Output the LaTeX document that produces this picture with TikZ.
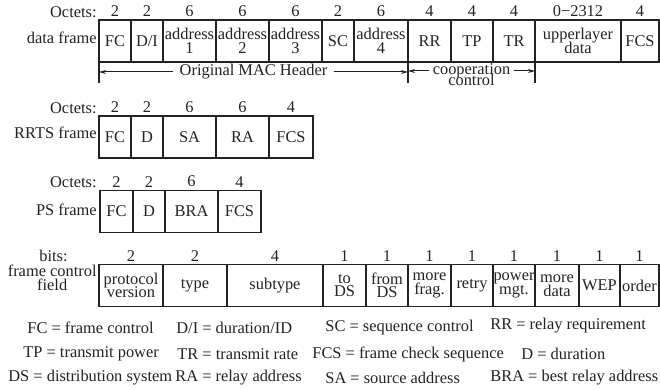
\documentclass[tikz,border=0pt]{standalone}
\usepackage{fontspec}
\setmainfont{Liberation Serif}
\usetikzlibrary{arrows.meta,positioning}
\definecolor{frameink}{HTML}{222222}
\lineskiplimit=-5pt

\begin{document}
\begin{tikzpicture}[
  x=0.5pt, y=-0.5pt,
  font=\fontsize{8.2}{6.8}\selectfont,
  cell/.style={draw=frameink, line width=0.7pt, minimum height=21pt, inner sep=0pt, outer sep=0pt, align=center, text=frameink},
  num/.style={inner sep=0pt, text=frameink},
  lbl/.style={anchor=east, inner sep=0pt, align=center, text=frameink},
  key/.style={anchor=west, inner sep=0pt, text=frameink},
  arr/.style={-{Stealth[length=3.5pt,width=2pt]}, frameink, line width=0.5pt},
  ext/.style={frameink, line width=0.7pt},
  every label/.style={num}, label distance=1.5pt
]
\useasboundingbox (0,0) rectangle (660,390);

% data frame
\node[lbl] (octa) at (97,12) {Octets:};
\node[lbl] (dfname) at (97,38) {data frame};
\node[cell, minimum width=16pt, label=above:2] (df1) at (115,41) {FC};
\node[cell, minimum width=16pt, label=above:2, right=0pt of df1] (df2) {D/I};
\node[cell, minimum width=26.5pt, label=above:6, right=0pt of df2] (df3) {address\\1};
\node[cell, minimum width=26.5pt, label=above:6, right=0pt of df3] (df4) {address\\2};
\node[cell, minimum width=26.5pt, label=above:6, right=0pt of df4] (df5) {address\\3};
\node[cell, minimum width=16pt, label=above:2, right=0pt of df5] (df6) {SC};
\node[cell, minimum width=27pt, label=above:6, right=0pt of df6] (df7) {address\\4};
\node[cell, minimum width=21.5pt, label=above:4, right=0pt of df7] (df8) {RR};
\node[cell, minimum width=21pt, label=above:4, right=0pt of df8] (df9) {TP};
\node[cell, minimum width=21pt, label=above:4, right=0pt of df9] (df10) {TR};
\node[cell, minimum width=43pt, label=above:0−2312, right=0pt of df10] (df11) {upperlayer\\data};
\node[cell, minimum width=19pt, label=above:4, right=0pt of df11] (df12) {FCS};

\draw[ext] (df1.south west) -- ++(0,21);
\draw[ext] (df7.south east) -- ++(0,21);
\draw[ext] (df10.south east) -- ++(0,21);
\node[num, inner xsep=3pt] (mac) at (253.5,72) {Original MAC Header};
\draw[arr] (mac.west) -- (mac.west -| df1.south west);
\draw[arr] (mac.east) -- (mac.east -| df7.south east);
\node[num, inner xsep=1.5pt] (coop) at (471.5,71) {cooperation};
\node[num, anchor=base] (ctl) at ([yshift=-5.5pt]coop.base) {control};
\draw[arr] (coop.west) -- (coop.west -| df7.south east);
\draw[arr] (coop.east) -- (coop.east -| df10.south east);

% RRTS frame
\node[lbl] (octr) at (97,108) {Octets:};
\node[lbl] (rrname) at (97,133) {RRTS frame};
\node[cell, minimum width=16pt, label=above:2] (rr1) at (115,137) {FC};
\node[cell, minimum width=16pt, label=above:2, right=0pt of rr1] (rr2) {D};
\node[cell, minimum width=26.5pt, label=above:6, right=0pt of rr2] (rr3) {SA};
\node[cell, minimum width=26.5pt, label=above:6, right=0pt of rr3] (rr4) {RA};
\node[cell, minimum width=22pt, label=above:4, right=0pt of rr4] (rr5) {FCS};

% PS frame
\node[lbl] (octp) at (97,182) {Octets:};
\node[lbl] (psname) at (97,210) {PS frame};
\node[cell, minimum width=16.5pt, label=above:2] (ps1) at (116.5,211.5) {FC};
\node[cell, minimum width=16pt, label=above:2, right=0pt of ps1] (ps2) {D};
\node[cell, minimum width=26.5pt, label=above:6, right=0pt of ps2] (ps3) {BRA};
\node[cell, minimum width=21.5pt, label=above:4, right=0pt of ps3] (ps4) {FCS};

% frame control field
\node[lbl] (bits) at (68,256) {bits:};
\node[lbl] (fcname) at (97,278) {frame control\\field};
\node[cell, minimum width=32pt, label=above:2] (fc1) at (131,285.5) {protocol\\version};
\node[cell, minimum width=32pt, label=above:2, right=0pt of fc1] (fc2) {type};
\node[cell, minimum width=48pt, label=above:4, right=0pt of fc2] (fc3) {subtype};
\node[cell, minimum width=21.5pt, label=above:1, right=0pt of fc3] (fc4) {to\\DS};
\node[cell, minimum width=21pt, label=above:1, right=0pt of fc4] (fc5) {from\\DS};
\node[cell, minimum width=21.5pt, label=above:1, right=0pt of fc5] (fc6) {more\\frag.};
\node[cell, minimum width=21pt, label=above:1, right=0pt of fc6] (fc7) {retry};
\node[cell, minimum width=21pt, label=above:1, right=0pt of fc7] (fc8) {power\\mgt.};
\node[cell, minimum width=22pt, label=above:1, right=0pt of fc8] (fc9) {more\\data};
\node[cell, minimum width=20.5pt, label=above:1, right=0pt of fc9] (fc10) {WEP};
\node[cell, minimum width=19.5pt, label=above:1, right=0pt of fc10] (fc11) {order};

% abbreviations
\node[key] (k1) at (27,328) {FC = frame control};
\node[key] (k2) at (176,328) {D/I = duration/ID};
\node[key] (k3) at (325,328) {SC = sequence control};
\node[key] (k4) at (490,326) {RR = relay requirement};
\node[key] (k5) at (23,354) {TP = transmit power};
\node[key] (k6) at (177,354) {TR = transmit rate};
\node[key] (k7) at (312,354) {FCS = frame check sequence};
\node[key] (k8) at (521,354) {D = duration};
\node[key] (k9) at (8,378) {DS = distribution system};
\node[key] (k10) at (175,378) {RA = relay address};
\node[key] (k11) at (325,378) {SA = source address};
\node[key] (k12) at (490,378) {BRA = best relay address};
\end{tikzpicture}
\end{document}
